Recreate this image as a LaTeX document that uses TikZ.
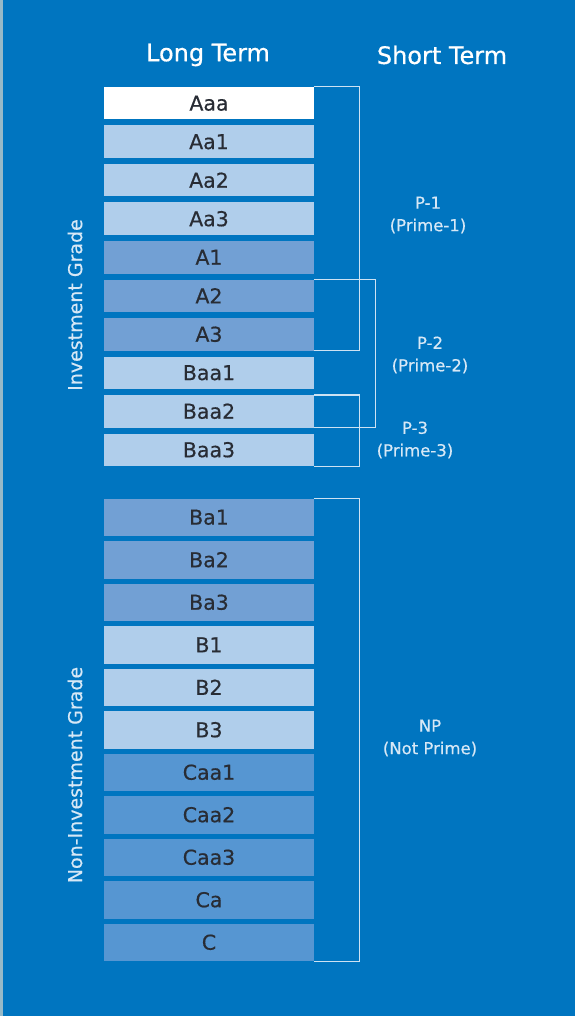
\documentclass[tikz,border=0pt]{standalone}
\usepackage{fontspec}
\setmainfont{DejaVu Sans}[FakeBold=0.5]
\usepackage{tikz}

\definecolor{bgblue}{RGB}{0,117,192}
\definecolor{lightbox}{RGB}{176,206,235}
\definecolor{midbox}{RGB}{114,160,212}
\definecolor{darkbox}{RGB}{86,150,210}
\definecolor{ratingtext}{RGB}{40,44,52}
\definecolor{labeltext}{RGB}{215,232,246}
\definecolor{bracketline}{RGB}{205,226,243}
\definecolor{edgegray}{RGB}{150,185,200}

\tikzset{
  rating/.style={minimum width=210pt, inner sep=0pt, text=ratingtext, font=\fontsize{20.5}{20.5}\selectfont},
  header/.style={text=white, font=\fontsize{24}{24}\selectfont},
  grade/.style={text=labeltext, rotate=90, font=\fontsize{19}{19}\selectfont},
  prime/.style={text=labeltext, align=center, font=\fontsize{16.5}{22.5}\selectfont},
  bracket/.style={draw=bracketline, line width=1.4pt}
}

\begin{document}
\begin{tikzpicture}[x=1pt,y=-1pt]
%background
\fill[bgblue] (0,0) rectangle (575,1016);
\fill[edgegray] (0,0) rectangle (3,1016);
\useasboundingbox (0,0) rectangle (575,1016);

%draw headers
\node[header] (longterm) at (208,55) {Long Term};
\node[header] (shortterm) at (442,55) {Short Term};

%draw investment grade boxes
\foreach \name/\col [count=\i from 0] in {Aaa/white,Aa1/lightbox,Aa2/lightbox,Aa3/lightbox,A1/midbox,A2/midbox,A3/midbox,Baa1/lightbox,Baa2/lightbox,Baa3/lightbox}{
   \node[rating, minimum height=32.5pt, fill=\col] (\name) at (209,103.25+38.5*\i) {\name};
}

%draw non-investment grade boxes
\foreach \name/\col [count=\i from 0] in {Ba1/midbox,Ba2/midbox,Ba3/midbox,B1/lightbox,B2/lightbox,B3/lightbox,Caa1/darkbox,Caa2/darkbox,Caa3/darkbox,Ca/darkbox,C/darkbox}{
   \node[rating, minimum height=37.5pt, fill=\col] (\name) at (209,517.25+42.5*\i) {\name};
}

%draw brackets
\draw[bracket] (Aaa.north east) -- ++(45,0) |- (A3.south east);
\draw[bracket] (A2.north east) -- ++(61,0) |- (Baa2.south east);
\draw[bracket] (Baa2.north east) -- ++(45,0) |- (Baa3.south east);
\draw[bracket] (Ba1.north east) -- ++(45,0) |- (C.south east);

%draw short term labels
\node[prime] (p1) at (428,215) {P-1\\(Prime-1)};
\node[prime] (p2) at (430,355) {P-2\\(Prime-2)};
\node[prime] (p3) at (415,440) {P-3\\(Prime-3)};
\node[prime] (np) at (430,738) {NP\\(Not Prime)};

%draw grade labels
\node[grade] (invest) at (75,305) {Investment Grade};
\node[grade] (noninvest) at (75,775) {Non-Investment Grade};
\end{tikzpicture}
\end{document}
